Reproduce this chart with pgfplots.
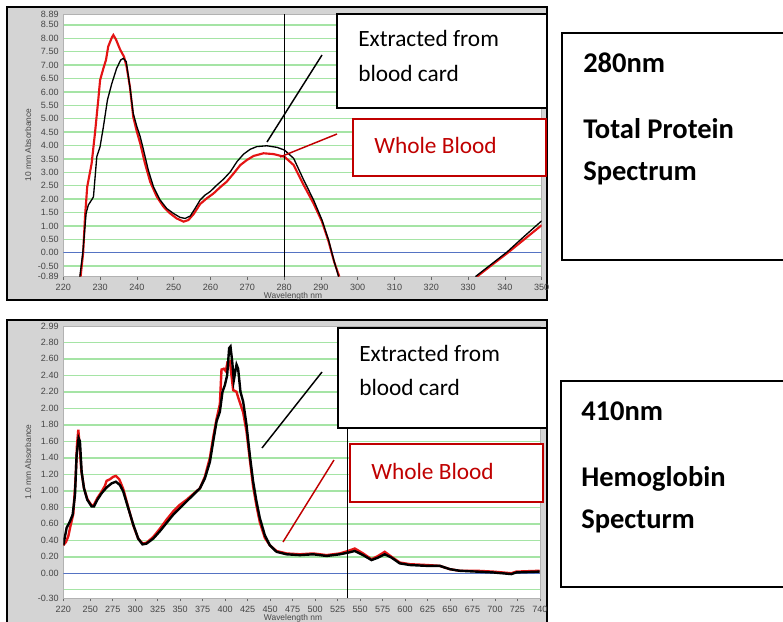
\documentclass[border=0pt]{standalone}
\usepackage{pgfplots}
\pgfplotsset{compat=1.18}
\usepackage{fontspec}
\setmainfont{Carlito}
\newfontfamily\tickfont{Liberation Sans}
\definecolor{framegray}{RGB}{212,212,212}
\definecolor{gridgreen}{RGB}{165,228,165}
\definecolor{zeroblue}{RGB}{85,115,195}
\definecolor{curvered}{RGB}{228,20,20}
\definecolor{boxred}{RGB}{192,0,0}
\definecolor{ticktext}{RGB}{70,70,70}
\pgfplotsset{
  specstyle/.style={
    scale only axis, anchor=south west,
    axis background/.style={fill=white},
    axis line style={draw=gray!60, line width=0.6pt},
    tick label style={font=\tickfont\fontsize{6.8}{7.5}\selectfont, text=ticktext},
    /pgf/number format/assume math mode=true,
    yticklabel style={/pgf/number format/.cd, fixed, fixed zerofill, precision=2},
    xtick pos=bottom, ytick pos=left,
    xtick align=outside, major tick length=2.5pt,
    xtick style={draw=black!60, line width=0.5pt},
    ytick style={draw=none},
    ymajorgrids, grid style={gridgreen, line width=1.1pt},
    extra y tick style={grid=none, tick style={draw=none}},
    clip=true,
  }
}
\begin{document}
\begin{tikzpicture}[x=0.75pt,y=-0.75pt]
\useasboundingbox (0,0) rectangle (783,622);
% frames
\draw[fill=framegray, draw=black, line width=1.5pt] (7,7) rectangle (547,300);
\draw[fill=framegray, draw=black, line width=1.5pt] (7,320) rectangle (547,625);

% ---------------- top panel ----------------
\begin{axis}[specstyle,
  at={(47.475pt,-207.45pt)}, width=358.8pt, height=196.65pt,
  xmin=220, xmax=350, ymin=-0.89, ymax=8.89,
  xtick={220,230,...,350},
  ytick={-0.5,0,0.5,1,1.5,2,2.5,3,3.5,4,4.5,5,5.5,6,6.5,7,7.5,8,8.5},
  extra y ticks={-0.89,8.89},
]
\draw[zeroblue, line width=1.1pt] (axis cs:220,0) -- (axis cs:350,0);
\addplot[curvered, line width=1.6pt] coordinates {
(224.7,-0.89) (225.4,0) (225.9,1.34) (226.5,2.46) (227.7,3.33) (228.6,4.45)
(229.5,5.70) (230.0,6.44) (230.9,6.88) (231.6,7.19) (232.2,7.69) (233.2,8.03)
(233.6,8.12) (234.3,7.96) (235.4,7.59) (236.5,7.31) (237.2,6.94) (238.1,6.19)
(239.0,5.07) (240.0,4.51) (240.9,4.08) (242.2,3.33) (243.6,2.65) (245.4,2.09)
(247.2,1.72) (249.0,1.47) (250.8,1.28) (252.7,1.16) (254.0,1.22) (255.4,1.44)
(257.2,1.82) (259.0,2.03) (260.8,2.21) (262.6,2.44) (264.4,2.65) (266.3,2.96)
(268.1,3.27) (269.9,3.46) (271.7,3.61) (274.4,3.71) (277.1,3.68) (280.1,3.58)
(282.6,3.27) (285.3,2.53) (288.0,1.84) (290.3,1.16) (292.1,0.41) (293.6,-0.34)
(295.0,-0.89)};
\addplot[curvered, line width=1.6pt] coordinates {
(332.4,-0.89) (336.5,-0.45) (340.6,-0.02) (345.0,0.47) (350.0,1.03)};
\addplot[black, line width=1.0pt] coordinates {
(224.5,-0.89) (225.3,0) (226.2,1.47) (226.8,1.78) (227.7,1.97) (228.2,2.09)
(229.1,3.58) (230.0,3.96) (230.9,4.70) (232.0,5.70) (233.2,6.32) (234.5,6.88)
(235.6,7.19) (236.3,7.25) (237.1,7.13) (238.1,6.19) (239.0,5.20) (240.0,4.70)
(240.9,4.33) (241.8,3.83) (243.1,3.08) (244.5,2.46) (246.3,1.97) (248.1,1.65)
(249.9,1.47) (251.7,1.32) (253.1,1.28) (254.5,1.37) (255.8,1.65) (257.2,1.97)
(258.5,2.15) (259.9,2.28) (261.7,2.52) (263.5,2.74) (265.4,3.02) (267.2,3.40)
(269.0,3.68) (270.8,3.86) (272.6,3.96) (275.3,3.99) (278.1,3.93) (280.1,3.83)
(282.6,3.52) (285.3,2.72) (288.0,1.97) (290.3,1.22) (292.1,0.47) (293.5,-0.27)
(294.8,-0.89)};
\addplot[black, line width=1.0pt] coordinates {
(332.0,-0.89) (336.3,-0.43) (340.6,0.03) (345.0,0.58) (350.0,1.19)};
\draw[black, line width=0.9pt] (axis cs:280,-0.89) -- (axis cs:280,8.89);
\end{axis}

% ---------------- bottom panel ----------------
\begin{axis}[specstyle,
  at={(47.475pt,-448.5pt)}, width=357.5pt, height=203.5pt,
  xmin=220, xmax=750, ymin=-0.30, ymax=2.99,
  xtick={220,250,275,300,325,350,375,400,425,450,475,500,525,550,575,600,625,650,675,700,725,750},
  xticklabels={220,250,275,300,325,350,375,400,425,450,475,500,525,550,575,600,625,650,675,700,725,740},
  ytick={0,0.2,0.4,0.6,0.8,1.0,1.2,1.4,1.6,1.8,2.0,2.2,2.4,2.6,2.8},
  minor ytick={-0.2}, yminorgrids, minor grid style={gridgreen, line width=1.1pt},
  minor tick style={draw=none},
  extra y ticks={-0.30,2.99},
]
\draw[zeroblue, line width=1.1pt] (axis cs:220,0) -- (axis cs:750,0);
\addplot[curvered, line width=1.8pt] coordinates {
(220.0,0.34) (223.0,0.38) (225.6,0.45) (228.1,0.58) (231.1,0.72) (233.7,1.15)
(235.2,1.55) (236.7,1.74) (238.1,1.55) (240.0,1.25) (243.0,1.03) (246.7,0.90)
(251.5,0.82) (254.1,0.83) (257.8,0.91) (262.6,0.99) (266.3,1.06) (268.1,1.12)
(271.9,1.14) (275.6,1.17) (278.5,1.18) (282.2,1.14) (286.7,1.02) (292.2,0.80)
(297.8,0.58) (303.3,0.42) (308.1,0.36) (312.6,0.37) (320.0,0.44) (327.4,0.54)
(334.8,0.65) (342.2,0.75) (349.6,0.83) (357.0,0.89) (364.4,0.96) (371.9,1.03)
(377.4,1.17) (383.0,1.40) (386.7,1.65) (390.4,1.87) (394.1,2.05) (395.9,2.47)
(398.5,2.48) (400.7,2.45) (402.6,2.56) (405.2,2.57) (407.0,2.40) (408.9,2.22)
(412.6,2.20) (414.8,2.12) (417.0,2.05) (420.0,1.95) (423.7,1.72) (427.4,1.38)
(431.1,1.05) (434.8,0.82) (438.5,0.62) (444.1,0.43) (449.6,0.34) (457.0,0.27)
(468.2,0.24) (483.0,0.23) (497.8,0.24) (512.7,0.22) (527.4,0.24) (536.7,0.27)
(544.1,0.30) (553.4,0.24) (562.7,0.17) (570.0,0.21) (577.4,0.26) (584.9,0.20)
(594.1,0.13) (605.2,0.11) (623.8,0.10) (638.6,0.09) (649.7,0.05) (660.8,0.03)
(679.7,0.03) (697.8,0.02) (718.2,0.00) (723.8,0.02) (749.7,0.03)};
\addplot[black, line width=1.8pt] coordinates {
(220.0,0.34) (223.7,0.55) (227.4,0.63) (230.4,0.71) (233.0,0.95) (234.8,1.43)
(237.0,1.64) (238.5,1.60) (240.4,1.23) (243.0,1.03) (246.7,0.89) (251.5,0.81)
(254.1,0.81) (257.8,0.89) (262.6,0.97) (268.1,1.04) (273.7,1.09) (278.5,1.11)
(283.0,1.07) (286.7,0.99) (292.2,0.79) (297.8,0.59) (303.3,0.42) (308.1,0.35)
(312.6,0.36) (320.0,0.42) (327.4,0.51) (334.8,0.61) (342.2,0.71) (349.6,0.79)
(357.0,0.87) (364.4,0.95) (371.9,1.03) (377.4,1.15) (383.0,1.35) (386.7,1.60)
(390.4,1.84) (394.1,1.96) (397.0,2.20) (399.6,2.28) (402.2,2.40) (404.4,2.73)
(405.9,2.75) (407.8,2.57) (409.6,2.34) (412.6,2.53) (414.4,2.48) (417.0,2.20)
(420.0,2.08) (423.7,1.80) (427.4,1.43) (431.1,1.11) (434.8,0.87) (438.5,0.67)
(444.1,0.46) (449.6,0.34) (457.1,0.26) (468.2,0.23) (483.0,0.22) (497.8,0.23)
(512.7,0.21) (527.4,0.23) (536.7,0.25) (544.1,0.27) (553.4,0.22) (562.7,0.16)
(570.0,0.19) (577.4,0.23) (584.9,0.19) (594.1,0.12) (605.2,0.10) (623.8,0.09)
(638.6,0.09) (649.7,0.05) (660.8,0.03) (679.7,0.02) (697.8,0.01) (718.2,-0.01)
(723.8,0.01) (749.7,0.02)};
\draw[black, line width=0.9pt] (axis cs:536,-0.30) -- (axis cs:536,2.99);
\end{axis}

% axis titles
\node[font=\tickfont\fontsize{6.3}{7}\selectfont, text=ticktext, rotate=90] at (28,145) {10 mm Absorbance};
\node[font=\tickfont\fontsize{6.3}{7}\selectfont, text=ticktext] at (293,296) {Wavelength nm};
\node[font=\tickfont\fontsize{6.3}{7}\selectfont, text=ticktext, rotate=90] at (28,462) {1.0 mm Absorbance};
\node[font=\tickfont\fontsize{6.3}{7}\selectfont, text=ticktext] at (293,618) {Wavelength nm};

% ---------------- annotations top ----------------
\draw[black, line width=1.1pt] (267,142) -- (322,55);
\draw[boxred, line width=1.1pt] (280,157) -- (337,134);
\draw[fill=white, draw=black, line width=1.1pt] (337,14) rectangle (547,108);
\draw[fill=white, draw=boxred, line width=1.1pt] (353,119) rectangle (546,176);
\node[anchor=base west, inner sep=0, font=\fontsize{17.5}{20}\selectfont] at (358,46.7) {Extracted from};
\node[anchor=base west, inner sep=0, font=\fontsize{17.5}{20}\selectfont] at (358,81) {blood card};
\node[anchor=base west, inner sep=0, font=\fontsize{17.5}{20}\selectfont, text=boxred] at (374,153.3) {Whole Blood};

% ---------------- annotations bottom ----------------
\draw[black, line width=1.1pt] (262,448) -- (322,372);
\draw[boxred, line width=1.1pt] (283,542) -- (334,460);
\draw[fill=white, draw=black, line width=1.1pt] (338,328) rectangle (547,428);
\draw[fill=white, draw=boxred, line width=1.1pt] (350,444) rectangle (543,502);
\node[anchor=base west, inner sep=0, font=\fontsize{17.5}{20}\selectfont] at (359,361.7) {Extracted from};
\node[anchor=base west, inner sep=0, font=\fontsize{17.5}{20}\selectfont] at (359,395) {blood card};
\node[anchor=base west, inner sep=0, font=\fontsize{17.5}{20}\selectfont, text=boxred] at (371,479) {Whole Blood};

% ---------------- right boxes ----------------
\draw[fill=white, draw=black, line width=1.1pt] (562,33) rectangle (795,260);
\node[anchor=base west, inner sep=0, font=\bfseries\fontsize{21.4}{24}\selectfont] at (583,72.3) {280nm};
\node[anchor=base west, inner sep=0, font=\bfseries\fontsize{21.4}{24}\selectfont] at (583,138) {Total Protein};
\node[anchor=base west, inner sep=0, font=\bfseries\fontsize{21.4}{24}\selectfont] at (583,180) {Spectrum};
\draw[fill=white, draw=black, line width=1.1pt] (561,381) rectangle (795,587);
\node[anchor=base west, inner sep=0, font=\bfseries\fontsize{21.4}{24}\selectfont] at (581,420) {410nm};
\node[anchor=base west, inner sep=0, font=\bfseries\fontsize{21.4}{24}\selectfont] at (581,486.7) {Hemoglobin};
\node[anchor=base west, inner sep=0, font=\bfseries\fontsize{21.4}{24}\selectfont] at (581,528.3) {Specturm};
\end{tikzpicture}
\end{document}
